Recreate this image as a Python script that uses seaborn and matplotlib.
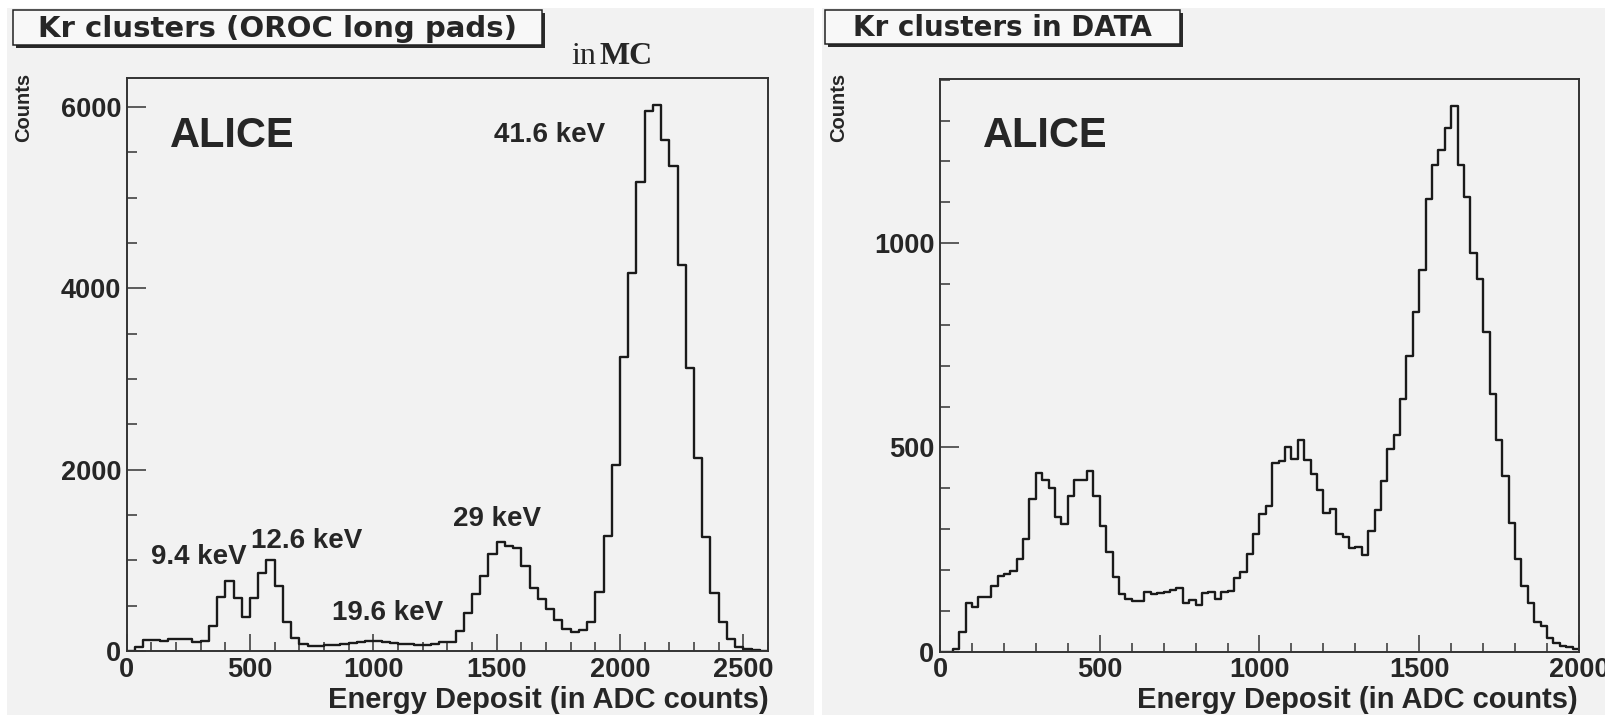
import numpy as np
import pandas as pd
import matplotlib
matplotlib.use("Agg")
import matplotlib.pyplot as plt
from matplotlib.patches import Rectangle
from matplotlib.ticker import MultipleLocator, FixedLocator
from matplotlib import font_manager
import seaborn as sns

# ---------------- data ----------------
mc_range = (0, 2600)          # ADC counts, 78 bins
mc_counts = [5, 45, 118, 118, 115, 136, 130, 128, 100, 115,
             275, 600, 775, 580, 370, 580, 865, 1000, 720, 325,
             140, 78, 55, 55, 63, 63, 74, 92, 103, 115,
             115, 103, 85, 74, 78, 63, 63, 78, 96, 100,
             220, 417, 627, 823, 1074, 1207, 1154, 1136, 939, 700,
             573, 458, 344, 243, 215, 229, 321, 655, 1269, 2048,
             3243, 4169, 5167, 5955, 6020, 5630, 5350, 4260, 3115, 2130,
             1260, 641, 321, 137, 46, 23, 9, 0]

data_range = (0, 2000)        # ADC counts, 100 bins
data_counts = [0, 0, 6, 49, 118, 110, 134, 134, 161, 185,
               190, 198, 226, 275, 374, 437, 420, 401, 329, 313,
               380, 420, 420, 442, 380, 307, 245, 183, 141, 128,
               123, 123, 147, 141, 143, 145, 150, 156, 118, 126,
               115, 143, 145, 128, 145, 148, 180, 194, 240, 288,
               337, 357, 461, 466, 500, 472, 517, 469, 434, 395,
               339, 349, 288, 281, 253, 257, 237, 296, 347, 418,
               495, 531, 619, 724, 832, 934, 1109, 1191, 1227, 1281,
               1335, 1191, 1114, 977, 913, 783, 630, 519, 429, 316,
               228, 160, 119, 73, 63, 33, 22, 14, 12, 7]

mc_title = "Kr clusters (OROC long pads)"
data_title = "Kr clusters in DATA"
x_title = "Energy Deposit (in ADC counts)"
y_title = "Counts"
peak_labels = ["9.4 keV", "12.6 keV", "19.6 keV", "29 keV", "41.6 keV"]
mc_xticks = [0, 500, 1000, 1500, 2000, 2500]
mc_yticks = [0, 2000, 4000, 6000]
data_xticks = [0, 500, 1000, 1500, 2000]
data_yticks = [0, 500, 1000]

# ---------------- styling ----------------
sns.set_style("ticks")
plt.rcParams['font.family'] = ['Liberation Sans', 'DejaVu Sans']

def has_font(name):
    try:
        font_manager.findfont(name, fallback_to_default=False)
        return True
    except Exception:
        return False

narrow_ok = has_font('Liberation Sans Narrow')
narrow = 'Liberation Sans Narrow' if narrow_ok else 'Liberation Sans'

W, H = 1606, 715
PAD = '#f2f2f2'
fig = plt.figure(figsize=(W / 100, H / 100), dpi=100, facecolor='white')

def fx(px):
    return px / W

def fy(py):
    return 1 - py / H

# canvas pads (behind the axes)
fig.patches.append(Rectangle((fx(7), fy(715)), fx(814) - fx(7), fy(8) - fy(715),
                             transform=fig.transFigure, facecolor=PAD, edgecolor='none', zorder=-5))
fig.patches.append(Rectangle((fx(822), fy(715)), fx(1606) - fx(822), fy(8) - fy(715),
                             transform=fig.transFigure, facecolor=PAD, edgecolor='none', zorder=-5))

def make_axes(l, t, r, b):
    return fig.add_axes([fx(l), fy(b), fx(r) - fx(l), fy(t) - fy(b)])

ax1 = make_axes(126.7, 77.7, 768, 651)
ax2 = make_axes(940, 79, 1579, 651.7)

def draw_hist(ax, counts, rng, ymax):
    counts = np.asarray(counts, dtype=float)
    nb = len(counts)
    width = (rng[1] - rng[0]) / nb
    centers = rng[0] + width * (np.arange(nb) + 0.5)
    df = pd.DataFrame({"x": centers, "w": counts})
    sns.histplot(data=df, x="x", weights="w", bins=nb, binrange=rng, element="step",
                 fill=False, color="#1a1a1a", linewidth=1.7, ax=ax)
    ax.set_xlim(*rng)
    ax.set_ylim(0, ymax)
    ax.set_xlabel("")
    ax.set_ylabel("")
    ax.set_facecolor(PAD)
    for s in ax.spines.values():
        s.set_visible(True)
        s.set_color('#333333')
        s.set_linewidth(1.4)

draw_hist(ax1, mc_counts, mc_range, 1.05 * max(mc_counts))
draw_hist(ax2, data_counts, data_range, 1.05 * max(data_counts))

tick_font = dict(family='Liberation Sans', weight='bold', size=19.5)
for ax, xt, yt, ymin in [(ax1, mc_xticks, mc_yticks, 500), (ax2, data_xticks, data_yticks, 100)]:
    ax.xaxis.set_major_locator(FixedLocator(xt))
    ax.yaxis.set_major_locator(FixedLocator(yt))
    ax.xaxis.set_minor_locator(MultipleLocator(100))
    ax.yaxis.set_minor_locator(MultipleLocator(ymin))
    ax.tick_params(axis='x', which='major', direction='in', length=12.5, width=1.1,
                   color='#333333', pad=4, top=False)
    ax.tick_params(axis='x', which='minor', direction='in', length=6.5, width=1.1,
                   color='#333333', top=False)
    ax.tick_params(axis='y', which='major', direction='in', length=13.5, width=1.1,
                   color='#333333', pad=4, right=False)
    ax.tick_params(axis='y', which='minor', direction='in', length=7, width=1.1,
                   color='#333333', right=False)
    ax.set_xticklabels([str(v) for v in xt], fontdict=tick_font)
    ax.set_yticklabels([str(v) for v in yt], fontdict=tick_font)

# axis titles
fig.text(fx(769), fy(700), x_title, ha='right', va='center', fontsize=21,
         fontweight='bold', family='Liberation Sans')
fig.text(fx(1578), fy(700), x_title, ha='right', va='center', fontsize=21,
         fontweight='bold', family='Liberation Sans')
cnt_size = 18.5 if narrow_ok else 14.5
for cx in (24, 839):
    fig.text(fx(cx), fy(73), y_title, ha='center', va='top', rotation=90,
             fontsize=cnt_size, family=narrow, fontweight='bold')

# title boxes with shadow
def title_box(l, t, r, b, text, size):
    fig.patches.append(Rectangle((fx(l + 3), fy(b + 3)), fx(r) - fx(l), fy(t) - fy(b),
                                 transform=fig.transFigure, facecolor='#2a2a2a',
                                 edgecolor='none', zorder=1))
    fig.patches.append(Rectangle((fx(l), fy(b)), fx(r) - fx(l), fy(t) - fy(b),
                                 transform=fig.transFigure, facecolor='#f8f8f8',
                                 edgecolor='#222222', linewidth=1.1, zorder=2))
    fig.text(fx((l + r) / 2), fy((t + b) / 2 + 1.5), text, ha='center', va='center',
             fontsize=size, family='DejaVu Sans', fontweight='bold', zorder=3)

title_box(13, 10, 542, 45, mc_title, 21)
title_box(825, 10, 1180, 44, data_title, 20)

# "in MC"
fig.text(fx(571), fy(64), "in", ha='left', va='baseline', fontsize=23,
         family='Liberation Serif')
fig.text(fx(600), fy(64), "MC", ha='left', va='baseline', fontsize=23,
         family='Liberation Serif', fontweight='bold')

# ALICE labels
for cx in (232, 1045):
    fig.text(fx(cx), fy(136), "ALICE", ha='center', va='center', fontsize=30,
             fontweight='bold', family='Liberation Sans')

# peak labels (pixel positions of label centres)
label_pos = [(199, 557), (307, 541), (388, 613), (497, 519), (550, 135)]
for txt, (px, py) in zip(peak_labels, label_pos):
    fig.text(fx(px), fy(py), txt, ha='center', va='center', fontsize=20,
             fontweight='bold', family='Liberation Sans')

fig.savefig("out.png", dpi=100, facecolor='white')
